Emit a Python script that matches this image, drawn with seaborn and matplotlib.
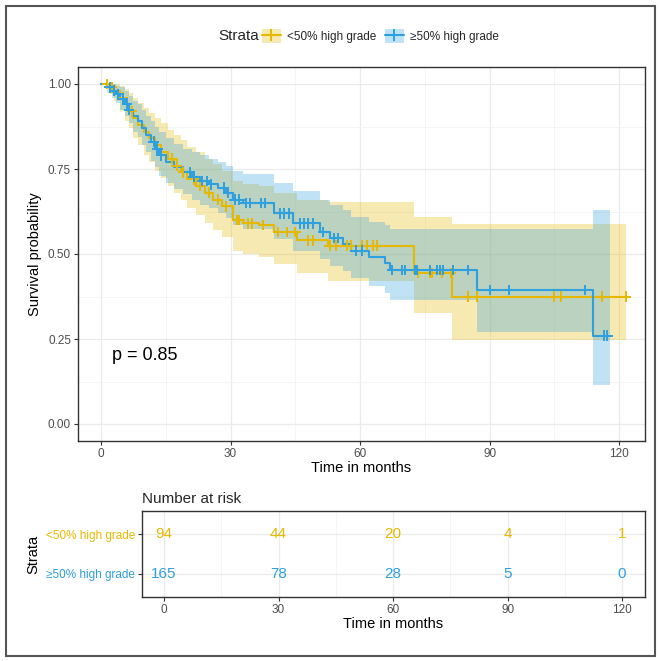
import numpy as np
import pandas as pd
import matplotlib
matplotlib.use("Agg")
import matplotlib.pyplot as plt
import seaborn as sns
from matplotlib.patches import Patch, Rectangle
from matplotlib.lines import Line2D
from matplotlib.legend_handler import HandlerTuple

# ---------------- data ----------------
groups = ["<50% high grade", "\u226550% high grade"]
colors = ["#E7B800", "#2E9FDF"]

lt_time = [0, 2, 3, 4.5, 5.5, 6.5, 7.5, 8.5, 10, 11, 12.5, 14, 15.5, 17, 18.5, 20, 22, 24, 26, 28,
           30.5, 33, 36.5, 40, 45.5, 52.5, 72.5, 81.4]
lt_surv = [1.0, .99, .98, .96, .94, .92, .90, .88, .86, .84, .82, .80, .78, .76, .74, .72, .70, .68, .66, .64,
           .60, .59, .585, .565, .54, .525, .444, .375]
lt_lower = [1.0, .97, .95, .92, .89, .87, .84, .82, .79, .77, .745, .725, .70, .68, .66, .635, .615, .59, .57, .55,
            .51, .50, .49, .47, .445, .42, .326, .247]
lt_upper = [1.0, 1.0, 1.0, .995, .985, .975, .96, .945, .93, .915, .90, .885, .865, .85, .835, .815, .80, .78, .765, .745,
            .715, .705, .70, .68, .66, .653, .609, .588]
lt_end = 121.5
lt_censor = [1.5, 2.5, 5, 7.2, 16.5, 17.5, 19, 21.5, 23, 25, 27, 29, 31.5, 32, 34, 35, 37.5, 41, 43, 45,
             48, 49, 53, 54.5, 57, 58, 60.5, 61.5, 63, 64, 73.5, 76.3, 76.7, 79, 81, 85, 87, 105, 106.5, 116, 121.5]

ge_time = [0, 1.5, 2.5, 3.5, 4.5, 5.5, 6.5, 7.5, 8.5, 9.5, 10.5, 11.5, 12.5, 13.5, 15, 17, 19, 21, 23, 25, 27, 29,
           30.5, 33, 40, 44.5, 50.8, 53, 56, 58, 62, 65.8, 67, 87, 114]
ge_surv = [1.0, .99, .98, .97, .955, .94, .925, .905, .89, .87, .85, .83, .81, .79, .77, .755, .74, .727, .715, .705,
           .695, .68, .66, .65, .62, .59, .565, .547, .53, .51, .49, .473, .453, .394, .26]
ge_lower = [1.0, .975, .96, .945, .925, .905, .885, .86, .845, .82, .80, .775, .755, .73, .71, .69, .675, .66, .645,
            .635, .62, .605, .585, .575, .545, .51, .485, .465, .45, .43, .405, .385, .365, .27, .115]
ge_upper = [1.0, 1.0, 1.0, .995, .99, .98, .965, .95, .94, .925, .905, .89, .875, .86, .84, .825, .81, .80, .79,
            .78, .77, .76, .745, .735, .71, .685, .66, .645, .63, .61, .595, .585, .574, .574, .63]
ge_end = 118
ge_censor = [2, 3, 4, 5, 6, 6.5, 12.2, 13, 14, 20.5, 21.5, 23.5, 24.5, 25.5, 28.5, 29.5, 31, 32, 33.5, 34.5, 37, 38,
             41.5, 42.5, 43.5, 46, 47, 48, 49, 51.5, 54, 55, 59, 60.5, 67.5, 69.8, 70.5, 72.8, 73.3, 76.3, 77.9,
             78.6, 79.3, 81.6, 84.9, 90, 94.4, 112, 116.4, 117.3]

risk_times = [0, 30, 60, 90, 120]
risk_lt = [94, 44, 20, 4, 1]
risk_ge = [165, 78, 28, 5, 0]
p_text = "p = 0.85"

# ---------------- style ----------------
sns.set_style("white")
plt.rcParams["font.family"] = ["Liberation Sans", "DejaVu Sans"]

fig = plt.figure(figsize=(6.6, 6.61), dpi=100)

def extend(t, v, end):
    return np.array(list(t) + [end]), np.array(list(v) + [v[-1]])

curves = [
    (lt_time, lt_surv, lt_lower, lt_upper, lt_end, lt_censor),
    (ge_time, ge_surv, ge_lower, ge_upper, ge_end, ge_censor),
]

ax = fig.add_axes([78 / 660, 1 - 441 / 661, 567 / 660, 374 / 661])

rows = []
cens_rows = []
for g, (t, s, lo, up, end, cens) in zip(groups, curves):
    te, se = extend(t, s, end)
    for a, b in zip(te, se):
        rows.append({"time": a, "surv": b, "Strata": g})
    ta = np.array(t)
    sa = np.array(s)
    for c in cens:
        idx = np.searchsorted(ta, c, side="right") - 1
        cens_rows.append({"time": c, "surv": sa[idx], "Strata": g})
df = pd.DataFrame(rows)
dfc = pd.DataFrame(cens_rows)

for g, col, (t, s, lo, up, end, cens) in zip(groups, colors, curves):
    te, loe = extend(t, lo, end)
    _, upe = extend(t, up, end)
    ax.fill_between(te, loe, upe, step="post", color=col, alpha=0.3, linewidth=0, zorder=1)

pal = dict(zip(groups, colors))
sns.lineplot(data=df, x="time", y="surv", hue="Strata", palette=pal, estimator=None,
             sort=False, drawstyle="steps-post", linewidth=1.5, ax=ax, legend=False, zorder=3)
sns.scatterplot(data=dfc, x="time", y="surv", hue="Strata", palette=pal, marker="+",
                s=60, linewidth=1.4, ax=ax, legend=False, zorder=4)

ax.set_xlim(-5.33, 126.0)
ax.set_ylim(-0.05, 1.05)
ax.set_xticks([0, 30, 60, 90, 120])
ax.set_xticks([15, 45, 75, 105], minor=True)
ax.set_yticks([0, 0.25, 0.5, 0.75, 1.0])
ax.set_yticklabels(["0.00", "0.25", "0.50", "0.75", "1.00"])
ax.set_yticks([0.125, 0.375, 0.625, 0.875], minor=True)
ax.grid(True, which="major", color="#EBEBEB", linewidth=0.9, zorder=0)
ax.grid(True, which="minor", color="#F4F4F4", linewidth=0.6, zorder=0)
ax.set_axisbelow(True)
for sp in ax.spines.values():
    sp.set_color("#333333")
    sp.set_linewidth(1.0)
ax.tick_params(axis="both", which="major", length=3, width=0.8, color="#333333",
               labelcolor="#4D4D4D", labelsize=8.5, pad=2, left=True, bottom=True)
ax.tick_params(axis="both", which="minor", length=0)
ax.set_xlabel("Time in months", fontsize=10.5, color="black", labelpad=1)
ax.set_ylabel("Survival probability", fontsize=10.5, color="black", labelpad=4)
ax.text(2.5, 0.2, p_text, fontsize=13, color="black", ha="left", va="center")

# legend
handles = []
for col in colors:
    handles.append((Patch(facecolor=col, alpha=0.3, edgecolor="none"),
                    Line2D([], [], color=col, marker="+", markersize=9, linewidth=1.5, markeredgewidth=1.4)))
fig.legend(handles=handles, labels=groups, ncol=2, frameon=False, fontsize=8.5,
           handler_map={tuple: HandlerTuple(ndivide=1, pad=0)},
           loc="center left", bbox_to_anchor=(262 / 660, 1 - 36 / 661),
           handlelength=1.6, handleheight=1.4, handletextpad=0.55, columnspacing=0.7, borderpad=0,
           borderaxespad=0)
fig.text(218 / 660, 1 - 36 / 661, "Strata", fontsize=11, ha="left", va="center")

# risk table
ax2 = fig.add_axes([142 / 660, 1 - 597 / 661, 503 / 660, 86 / 661])
ax2.set_xlim(-5.76, 126.0)
ax2.set_ylim(2.6, 0.4)
for row, (vals, col) in enumerate(zip([risk_lt, risk_ge], colors), start=1):
    for t, n in zip(risk_times, vals):
        ax2.text(t, row, str(n), color=col, fontsize=11, ha="center", va="center")
ax2.set_xticks([0, 30, 60, 90, 120])
ax2.set_xticks([15, 45, 75, 105], minor=True)
ax2.set_yticks([1, 2])
ax2.set_yticklabels(groups)
for lab, col in zip(ax2.get_yticklabels(), colors):
    lab.set_color(col)
ax2.grid(True, which="major", color="#EBEBEB", linewidth=0.9)
ax2.grid(True, which="minor", axis="x", color="#F4F4F4", linewidth=0.6)
ax2.set_axisbelow(True)
for sp in ax2.spines.values():
    sp.set_color("#333333")
    sp.set_linewidth(1.0)
ax2.tick_params(axis="x", which="major", length=3, width=0.8, color="#333333",
                labelcolor="#4D4D4D", labelsize=8.5, pad=2, bottom=True)
ax2.tick_params(axis="y", which="major", length=3, width=0.8, color="#333333",
                labelsize=8.5, pad=2, left=True)
ax2.tick_params(axis="both", which="minor", length=0)
ax2.set_xlabel("Time in months", fontsize=10.5, color="black", labelpad=1)
ax2.set_ylabel("Strata", fontsize=10.5, color="black", labelpad=4)
ax2.set_title("Number at risk", loc="left", fontsize=11, pad=6)

fig.patches.append(Rectangle((5.5 / 660, 5.5 / 661), 649 / 660, 650 / 661, transform=fig.transFigure,
                             fill=False, edgecolor="#555555", linewidth=1.5))

fig.savefig("out.png", dpi=100)
